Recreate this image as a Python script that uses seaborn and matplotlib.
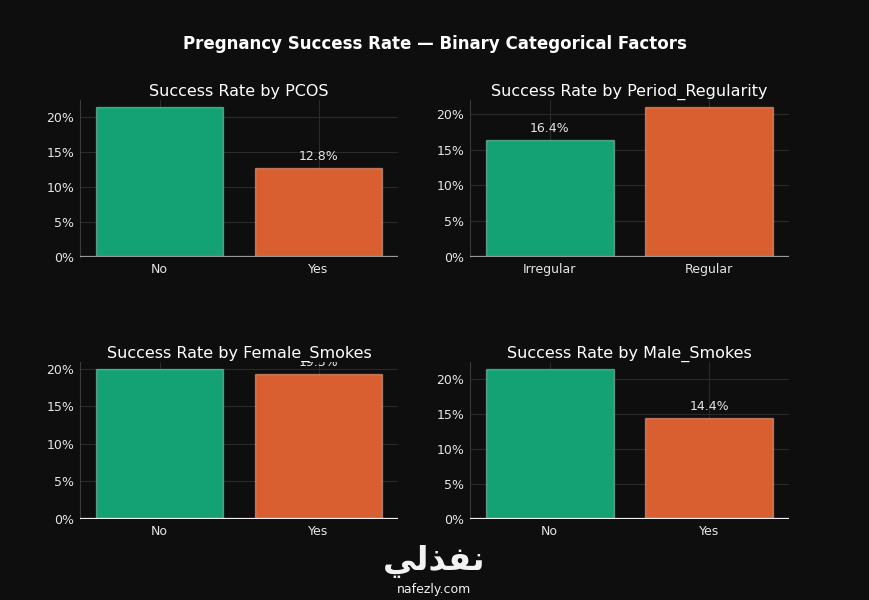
import numpy as np
import pandas as pd
import matplotlib
matplotlib.use("Agg")
import matplotlib.pyplot as plt
import seaborn as sns
from matplotlib.ticker import FuncFormatter

# данные
factors = ["PCOS", "Period_Regularity", "Female_Smokes", "Male_Smokes"]
cats_pcos = ["No", "Yes"]
rate_pcos = [21.4, 12.8]
cats_period = ["Irregular", "Regular"]
rate_period = [16.4, 20.9]
cats_female = ["No", "Yes"]
rate_female = [19.9, 19.3]
cats_male = ["No", "Yes"]
rate_male = [21.3, 14.4]

all_cats = [cats_pcos, cats_period, cats_female, cats_male]
all_rates = [rate_pcos, rate_period, rate_female, rate_male]

bg = "#0e0e0e"
grid_c = "#2a2a2a"
text_c = "#e6e6e6"
colors = ["#14a275", "#d95f30"]

sns.set_theme(style="dark")
plt.rcParams["font.family"] = ["DejaVu Sans"]

fig = plt.figure(figsize=(8.69, 6.0), dpi=100, facecolor=bg)

# позиции осей в пикселях: (x0, x1, y_top, y_bottom)
boxes = [(80, 398, 100, 257), (470, 789, 100, 257),
         (80, 398, 362, 519), (470, 789, 362, 519)]
zero_colors = ["#9a9a9a", "#9a9a9a", "#f0f0f0", "#f0f0f0"]

for i, name in enumerate(factors):
    x0, x1, yt, yb = boxes[i]
    ax = fig.add_axes([x0 / 869, 1 - yb / 600, (x1 - x0) / 869, (yb - yt) / 600])
    ax.set_facecolor(bg)
    df = pd.DataFrame({"cat": all_cats[i], "rate": all_rates[i]})
    sns.barplot(data=df, x="cat", y="rate", hue="cat", palette=colors,
                legend=False, width=0.8, ax=ax, saturation=1,
                edgecolor=(1, 1, 1, 0.35), linewidth=1, zorder=3)
    ymax = max(all_rates[i]) * 1.05
    ax.set_ylim(0, ymax)
    ax.set_xlim(-0.5, 1.5)
    ax.set_yticks([0, 5, 10, 15, 20])
    ax.yaxis.set_major_formatter(FuncFormatter(lambda v, p: f"{v:.0f}%"))
    ax.grid(True, axis="both", color=grid_c, linewidth=0.8, zorder=0)
    ax.set_axisbelow(True)
    for s in ["top", "right", "bottom"]:
        ax.spines[s].set_visible(False)
    ax.spines["left"].set_color("#3a3a3a")
    ax.spines["left"].set_linewidth(0.8)
    ax.axhline(0, color=zero_colors[i], linewidth=1.6, zorder=4)
    ax.tick_params(axis="both", colors=text_c, labelsize=9, length=0, pad=4)
    ax.set_xlabel("")
    ax.set_ylabel("")
    for j, v in enumerate(all_rates[i]):
        ax.annotate(f"{v:.1f}%", xy=(j, v), xytext=(0, 3.5), textcoords="offset points",
                    ha="center", va="bottom", color=text_c, fontsize=9,
                    annotation_clip=False, clip_on=True, zorder=5)
    ax.set_title(f"Success Rate by {name}", color="white", fontsize=11.5, pad=3)

fig.text(0.5, 1 - 44 / 600, "Pregnancy Success Rate — Binary Categorical Factors",
         ha="center", va="center", color="white", fontsize=12, fontweight="bold")

# водяной знак
fig.text(0.5, 1 - 562 / 600, "\uFEF2\uFEDF\uFEAC\uFED4\uFEE7", ha="center", va="center",
         color="#f2f2f2", fontsize=24, fontweight="bold")
fig.text(0.5, 1 - 589 / 600, "nafezly.com", ha="center", va="center",
         color="#f2f2f2", fontsize=9)

fig.savefig("out.png", dpi=100, facecolor=bg)
